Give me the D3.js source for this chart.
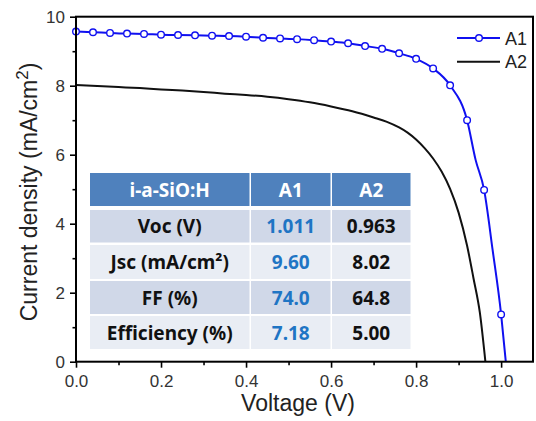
<!DOCTYPE html>
<html><head><meta charset="utf-8">
<script src="https://cdn.jsdelivr.net/npm/d3@7"></script>
<style>body{margin:0;background:#fff}svg{display:block}</style>
</head><body><svg id="c" width="536" height="421"></svg>
<script>
// ---- data ----
const xTicks=[0,0.2,0.4,0.6,0.8,1.0];
const xMinor=[0.1,0.3,0.5,0.7,0.9];
const yTicks=[0,2,4,6,8,10];
const yMinor=[1,3,5,7,9];
// A1 markers every 0.04 V
const a1V=[0,0.04,0.08,0.12,0.16,0.20,0.24,0.28,0.32,0.36,0.40,0.44,0.48,0.52,0.56,0.60,0.64,0.68,0.72,0.76,0.80,0.84,0.88,0.92,0.96,1.00];
const a1J=[9.57,9.55,9.53,9.51,9.50,9.48,9.47,9.46,9.45,9.44,9.42,9.39,9.37,9.35,9.32,9.28,9.23,9.15,9.07,8.94,8.78,8.50,8.01,7.00,4.98,1.37];
// extra points of the A1 line (no markers)
const a1ExtraV=[0.94,0.98,1.011];
const a1ExtraJ=[5.85,3.24,0];
const a2V=[0,0.05,0.10,0.15,0.20,0.25,0.30,0.35,0.40,0.45,0.50,0.55,0.60,0.65,0.70,0.73,0.76,0.78,0.80,0.82,0.84,0.86,0.88,0.90,0.92,0.935,0.95,0.963];
const a2J=[8.02,7.99,7.96,7.93,7.89,7.86,7.82,7.77,7.73,7.68,7.61,7.52,7.40,7.26,7.08,6.96,6.79,6.64,6.44,6.19,5.89,5.51,5.01,4.32,3.36,2.42,1.42,0];
const seriesNames=["A1","A2"];
const tableHeader=["i-a-SiO:H","A1","A2"];
const tableRows=["Voc (V)","Jsc (mA/cm²)","FF (%)","Efficiency (%)"];
const a1Params=["1.011","9.60","74.0","7.18"];
const a2Params=["0.963","8.02","64.8","5.00"];

// ---- chart ----
const svg=d3.select("#c");
const L=76,R=533,T=16.7,B=361.7;
const x=d3.scaleLinear([0,1.075],[L,R]);
const y=d3.scaleLinear([0,10],[B,T]);
const tickFont="'Liberation Sans',Arial,sans-serif";

function styleAxis(g){g.select(".domain").remove();g.selectAll("line").attr("stroke","#000").attr("stroke-width",1.6);
  g.selectAll("text").attr("font-family",tickFont).attr("font-size",17).attr("fill","#333");}
svg.append("g").attr("transform",`translate(0,${B})`)
  .call(d3.axisBottom(x).tickValues(xTicks).tickFormat(d3.format(".1f")).tickSize(6).tickPadding(7)).call(styleAxis);
svg.append("g").attr("transform",`translate(0,${B})`)
  .call(d3.axisBottom(x).tickValues(xMinor).tickFormat("").tickSize(3.5)).call(styleAxis);
svg.append("g").attr("transform",`translate(${L},0)`)
  .call(d3.axisLeft(y).tickValues(yTicks).tickFormat(d3.format("d")).tickSize(6).tickPadding(5)).call(styleAxis);
svg.append("g").attr("transform",`translate(${L},0)`)
  .call(d3.axisLeft(y).tickValues(yMinor).tickFormat("").tickSize(3.5)).call(styleAxis);

// table
const colX=[90,251,332,412];
const hdrY=173,hdrH=33;
const rowY=[210,245,281,316],rowH=[32.5,34,33,33];
const tFont="'Noto Sans',sans-serif";
const tg=svg.append("g");
tableHeader.forEach((h,i)=>{
  tg.append("rect").attr("x",colX[i]).attr("y",hdrY).attr("width",colX[i+1]-colX[i]-1.5).attr("height",hdrH).attr("fill","#4f81bd");
  tg.append("text").attr("x",(colX[i]+colX[i+1]-1.5)/2).attr("y",hdrY+hdrH/2+7).attr("text-anchor","middle")
    .attr("font-family",tFont).attr("font-weight",700).attr("font-size",19).attr("fill","#fff").text(h);
});
tableRows.forEach((r,j)=>{
  const fill=j%2===0?"#d0d8e8":"#e9edf4";
  const vals=[r,a1Params[j],a2Params[j]];
  vals.forEach((v,i)=>{
    tg.append("rect").attr("x",colX[i]).attr("y",rowY[j]).attr("width",colX[i+1]-colX[i]-1.5).attr("height",rowH[j]).attr("fill",fill);
    tg.append("text").attr("x",(colX[i]+colX[i+1]-1.5)/2).attr("y",rowY[j]+rowH[j]/2+7).attr("text-anchor","middle")
      .attr("font-family",tFont).attr("font-weight",700).attr("font-size",19)
      .attr("fill",i===1?"#1f75c4":"#111").text(v);
  });
});

// curves
const a1Line=a1V.map((v,i)=>[v,a1J[i]]).concat(a1ExtraV.map((v,i)=>[v,a1ExtraJ[i]])).sort((a,b)=>a[0]-b[0]);
const a2Line=a2V.map((v,i)=>[v,a2J[i]]);
const line=d3.line().x(d=>x(d[0])).y(d=>y(d[1])).curve(d3.curveMonotoneX);
svg.append("path").attr("d",line(a2Line)).attr("fill","none").attr("stroke","#111").attr("stroke-width",2);
svg.append("path").attr("d",line(a1Line)).attr("fill","none").attr("stroke","#1010f0").attr("stroke-width",2);
svg.append("g").selectAll("circle").data(a1V.map((v,i)=>[v,a1J[i]])).join("circle")
  .attr("cx",d=>x(d[0])).attr("cy",d=>y(d[1])).attr("r",3.3)
  .attr("fill","#fff").attr("stroke","#1010f0").attr("stroke-width",1.4);

// frame
svg.append("rect").attr("x",L).attr("y",T).attr("width",R-L).attr("height",B-T)
  .attr("fill","none").attr("stroke","#000").attr("stroke-width",2);

// legend
const lg=svg.append("g");
const legY=[38,61.7];
seriesNames.forEach((n,i)=>{
  const col=i===0?"#1010f0":"#111";
  lg.append("line").attr("x1",457).attr("x2",500).attr("y1",legY[i]).attr("y2",legY[i]).attr("stroke",col).attr("stroke-width",2);
  if(i===0) lg.append("circle").attr("cx",479).attr("cy",legY[i]).attr("r",3.3).attr("fill","#fff").attr("stroke",col).attr("stroke-width",1.4);
  lg.append("text").attr("x",505).attr("y",legY[i]+6.5).attr("font-family",tickFont).attr("font-size",18).attr("fill","#222").text(n);
});

// axis titles
svg.append("text").attr("x",298).attr("y",411).attr("text-anchor","middle")
  .attr("font-family",tickFont).attr("font-size",23).attr("fill","#222").text("Voltage (V)");
const yt=svg.append("text").attr("transform","translate(37,192) rotate(-90)").attr("text-anchor","middle")
  .attr("font-family",tickFont).attr("font-size",23).attr("fill","#222");
yt.append("tspan").text("Current density (mA/cm");
yt.append("tspan").attr("dy",-9).attr("font-size",17).text("2");
yt.append("tspan").attr("dy",9).text(")");
</script></body></html>
